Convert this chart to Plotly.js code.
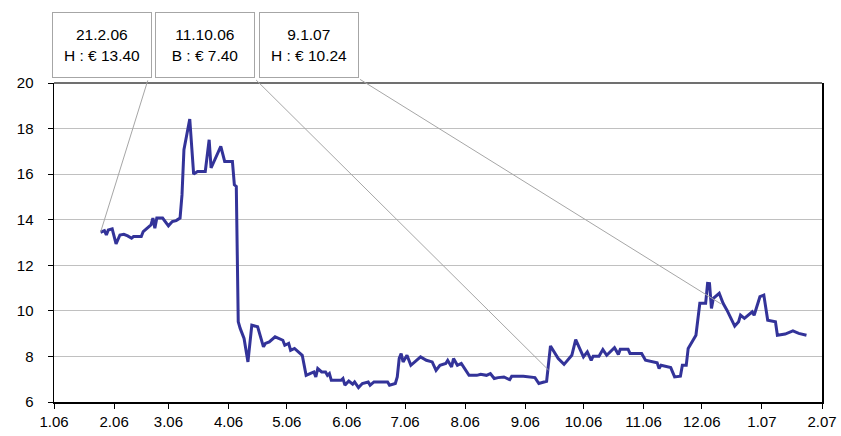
<!DOCTYPE html>
<html>
<head>
<meta charset="utf-8">
<script src="https://cdn.plot.ly/plotly-3.0.1.min.js"></script>
<style>html,body{margin:0;padding:0;background:#fff;}#chart{width:841px;height:436px;}</style>
</head>
<body>
<div id="chart"></div>
<script>
var dates = [
'2006-01-25','2006-01-27','2006-01-28','2006-01-29','2006-01-31',
'2006-02-02','2006-02-04','2006-02-06','2006-02-08','2006-02-10','2006-02-11','2006-02-15','2006-02-16','2006-02-18','2006-02-20','2006-02-21','2006-02-22','2006-02-23','2006-02-26',
'2006-03-01','2006-03-03','2006-03-05','2006-03-07','2006-03-08','2006-03-09','2006-03-12','2006-03-14','2006-03-16','2006-03-20','2006-03-22','2006-03-23','2006-03-28','2006-03-30',
'2006-04-03','2006-04-04','2006-04-05','2006-04-06','2006-04-07','2006-04-09','2006-04-11','2006-04-13','2006-04-16','2006-04-19','2006-04-20','2006-04-22','2006-04-25','2006-04-27','2006-04-29','2006-04-30',
'2006-05-02','2006-05-03','2006-05-05','2006-05-09','2006-05-11','2006-05-13','2006-05-15','2006-05-16','2006-05-17','2006-05-19','2006-05-21','2006-05-22','2006-05-23','2006-05-24','2006-05-27','2006-05-29','2006-05-30','2006-05-31',
'2006-06-02','2006-06-04','2006-06-05','2006-06-07','2006-06-09','2006-06-12','2006-06-13','2006-06-15','2006-06-22','2006-06-23','2006-06-26','2006-06-27','2006-06-28','2006-06-29','2006-06-30',
'2006-07-02','2006-07-04','2006-07-07','2006-07-09','2006-07-12','2006-07-15','2006-07-17','2006-07-19','2006-07-22','2006-07-23','2006-07-25','2006-07-26','2006-07-28','2006-07-30',
'2006-08-03','2006-08-07','2006-08-09','2006-08-12','2006-08-14','2006-08-16','2006-08-18','2006-08-21','2006-08-24','2006-08-25','2006-08-31',
'2006-09-02','2006-09-06','2006-09-08','2006-09-12','2006-09-14','2006-09-18','2006-09-21','2006-09-25','2006-09-27',
'2006-10-01','2006-10-03','2006-10-05','2006-10-06','2006-10-09','2006-10-11','2006-10-13','2006-10-17','2006-10-19','2006-10-20','2006-10-24','2006-10-25','2006-10-31',
'2006-11-02','2006-11-08','2006-11-09','2006-11-10','2006-11-15','2006-11-17','2006-11-20','2006-11-21','2006-11-23','2006-11-24','2006-11-28','2006-11-30',
'2006-12-03','2006-12-04','2006-12-05','2006-12-06','2006-12-07','2006-12-10','2006-12-12','2006-12-14','2006-12-18','2006-12-20','2006-12-21','2006-12-23','2006-12-27','2006-12-28','2006-12-31',
'2007-01-02','2007-01-04','2007-01-08','2007-01-09','2007-01-13','2007-01-17','2007-01-20','2007-01-24'
];
var prices = [
13.45,13.52,13.33,13.55,13.6,
12.94,13.33,13.36,13.29,13.19,13.26,13.26,13.48,13.63,13.77,14.07,13.63,14.07,14.07,
13.73,13.92,13.96,14.07,15.09,17.07,18.42,16.0,16.12,16.12,17.51,16.27,17.22,16.56,
16.56,15.53,15.46,9.52,9.23,8.79,7.76,9.37,9.30,8.42,8.57,8.64,8.86,8.79,8.71,8.49,
8.57,8.27,8.35,8.05,7.17,7.25,7.32,7.10,7.47,7.32,7.32,7.17,7.25,6.95,6.95,6.95,7.03,6.74,
6.92,6.78,6.88,6.63,6.81,6.88,6.74,6.88,6.88,6.74,6.81,7.10,7.91,8.13,7.76,
8.05,7.61,7.83,7.98,7.83,7.76,7.39,7.61,7.69,7.83,7.54,7.91,7.61,7.69,
7.17,7.17,7.22,7.17,7.25,7.03,7.07,7.10,6.98,7.13,7.13,
7.10,7.07,6.81,6.91,8.46,7.91,7.65,8.05,8.74,
7.98,8.2,7.83,8.01,8.01,8.3,8.05,8.38,8.09,8.32,8.32,8.13,8.13,
7.83,7.72,7.47,7.61,7.51,7.10,7.13,7.61,7.61,8.35,8.93,10.33,
10.33,11.21,11.2,10.11,10.55,10.77,10.33,10.03,9.33,9.52,9.81,9.67,9.96,9.81,10.62,
10.69,9.59,9.52,8.93,8.98,9.12,9.01,8.93
];
// call-out boxes
var calloutText = ['21.2.06<br>H : € 13.40', '11.10.06<br>B : € 7.40', '9.1.07<br>H : € 10.24'];
var calloutPointDate = ['2006-01-25', '2006-09-13', '2006-12-11'];
var calloutPointValue = [13.45, 7.4, 10.3];
var calloutTailDate = ['2006-02-18 16:00', '2006-04-14 10:00', '2006-06-07'];
var calloutTailValue = [20.2, 20.2, 20.2];
var boxX = [0.0625, 0.1966, 0.332];

var font = 'Liberation Sans, Arial, sans-serif';
var annotations = [];
for (var i = 0; i < calloutText.length; i++) {
  annotations.push({
    xref: 'paper', yref: 'paper', x: boxX[i], y: 1.1176,
    xanchor: 'center', yanchor: 'middle',
    text: calloutText[i], showarrow: false,
    width: 96, height: 62, borderpad: 1, borderwidth: 1,
    bordercolor: '#a6a6a6', bgcolor: '#ffffff',
    font: {family: font, size: 15.5, color: '#000'}
  });
  annotations.push({
    xref: 'x', yref: 'y', axref: 'x', ayref: 'y',
    x: calloutPointDate[i], y: calloutPointValue[i],
    ax: calloutTailDate[i], ay: calloutTailValue[i],
    text: ' ', font: {size: 1}, showarrow: true, arrowhead: 0,
    arrowwidth: 1, arrowcolor: '#a6a6a6', standoff: 0, startstandoff: 0
  });
}

var trace = {
  x: dates, y: prices, type: 'scatter', mode: 'lines',
  line: {color: '#333399', width: 3}, hoverinfo: 'skip'
};

var layout = {
  width: 841, height: 436,
  margin: {l: 54, r: 19, t: 83, b: 34},
  paper_bgcolor: '#fff', plot_bgcolor: '#fff',
  showlegend: false,
  font: {family: font, size: 15, color: '#000'},
  xaxis: {
    type: 'date', range: ['2006-01-01', '2007-02-01'],
    tick0: '2006-01-01', dtick: 'M1', tickformat: '%-m.%y',
    ticks: 'outside', ticklen: 5, tickcolor: '#000', tickwidth: 1,
    showline: true, linecolor: '#000', linewidth: 1.5, mirror: false,
    showgrid: false, zeroline: false,
    tickfont: {family: font, size: 15, color: '#000'}
  },
  yaxis: {
    range: [6, 20], dtick: 2, tick0: 6,
    ticks: 'outside', ticklen: 5, tickcolor: '#000', tickwidth: 1,
    ticklabelstandoff: 11,
    showline: true, linecolor: '#000', linewidth: 1.5, mirror: true,
    showgrid: true, gridcolor: '#c0c0c0', gridwidth: 1, zeroline: false,
    tickfont: {family: font, size: 15, color: '#000'}
  },
  shapes: [{
    type: 'line', xref: 'paper', yref: 'paper', x0: 0, x1: 1, y0: 1, y1: 1,
    line: {color: '#707070', width: 2}, layer: 'above'
  }],
  annotations: annotations
};

Plotly.newPlot('chart', [trace], layout, {staticPlot: true, displayModeBar: false});
</script>
</body>
</html>
